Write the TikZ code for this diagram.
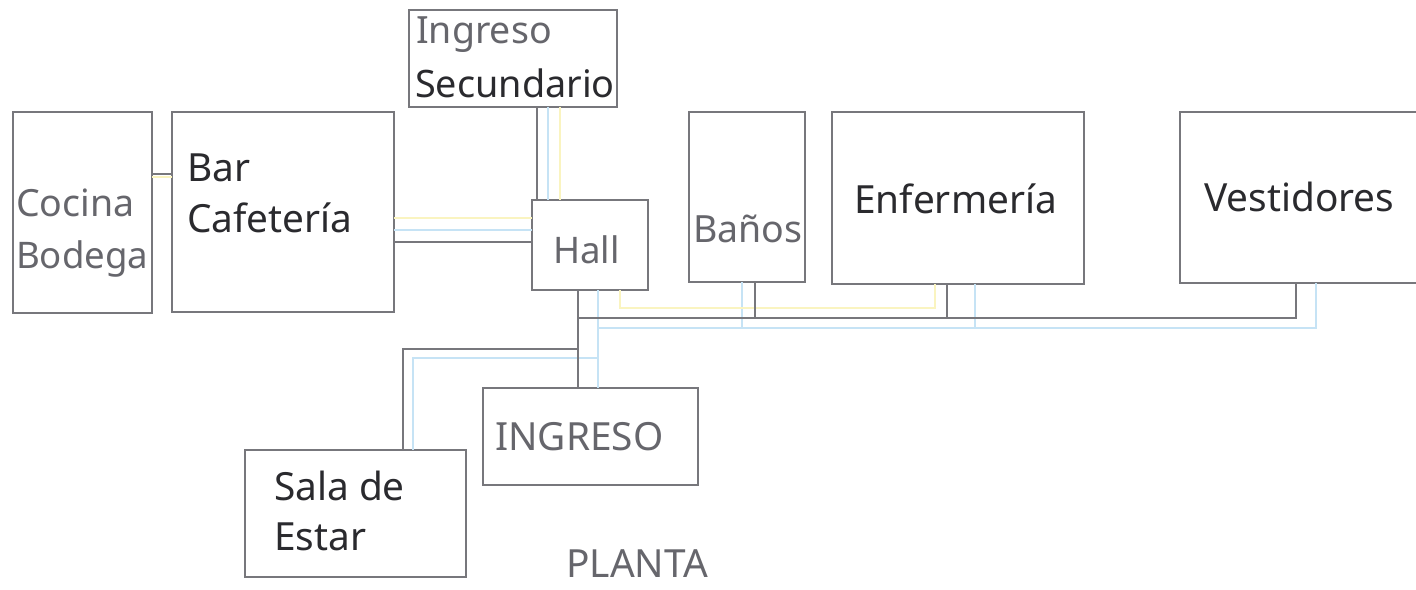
\documentclass[tikz,border=0pt]{standalone}
\usepackage{fontspec}
\setmainfont{Noto Sans}
\definecolor{ln}{HTML}{77777C}
\definecolor{bluel}{HTML}{C6E3F5}
\definecolor{yell}{HTML}{FAF4C0}
\definecolor{txg}{HTML}{66666C}
\definecolor{txd}{HTML}{2A2A2E}
\tikzset{
  x=1pt,y=-1pt,
  room/.style={draw=ln,line width=2pt,fill=white,anchor=north west,inner sep=0pt,outer sep=0pt},
  lab/.style={anchor=base west,inner sep=0pt,font=\fontsize{37.5}{37.5}\selectfont,text=txg},
  labn/.style={lab,font=\fontsize{36.6}{36.6}\selectfont},
  labw/.style={lab,font=\fontsize{38.8}{38.8}\selectfont},
  labd/.style={labw,text=txd},
  labs/.style={lab,font=\fontsize{37.8}{37.8}\selectfont,text=txd},
  dk/.style={draw=ln,line width=2pt},
  bl/.style={draw=bluel,line width=1.5pt},
  yl/.style={draw=yell,line width=1.8pt},
}
\begin{document}
\begin{tikzpicture}
\useasboundingbox (0,0) rectangle (1416,589);
% rooms
\node[room,minimum width=208pt,minimum height=97pt] (sec) at (409,10) {};
\node[room,minimum width=139pt,minimum height=201pt] (coc) at (13,112) {};
\node[room,minimum width=222pt,minimum height=200pt] (bar) at (172,112) {};
\node[room,minimum width=116pt,minimum height=90pt] (hall) at (532,200) {};
\node[room,minimum width=116pt,minimum height=170pt] (ban) at (689,112) {};
\node[room,minimum width=252pt,minimum height=172pt] (enf) at (832,112) {};
\node[room,minimum width=240pt,minimum height=171pt] (ves) at (1180,112) {};
\node[room,minimum width=215pt,minimum height=97pt] (ing) at (483,388) {};
\node[room,minimum width=221pt,minimum height=127pt] (sal) at (245,450) {};
% helper junctions
\coordinate (dkbus) at ([xshift=46pt,yshift=-28pt]hall.south west);
\coordinate (blbus) at ([xshift=66pt,yshift=-38pt]hall.south west);
\coordinate (dksal) at ([xshift=46pt,yshift=-59pt]hall.south west);
\coordinate (blsal) at ([xshift=66pt,yshift=-68pt]hall.south west);
% blue connectors
\draw[bl] ([xshift=139pt]sec.south west) -- ([xshift=16pt]hall.north west);
\draw[bl] ([yshift=-30pt]hall.north west) -- ([yshift=-118pt]bar.north east);
\draw[bl] ([xshift=66pt]hall.south west) -- ([xshift=115pt]ing.north west);
\draw[bl] (blbus) -| ([xshift=136pt]ves.south west);
\draw[bl] ([xshift=53pt]ban.south west) -- ([xshift=53pt,yshift=-46pt]ban.south west);
\draw[bl] ([xshift=143pt]enf.south west) -- ([xshift=143pt,yshift=-44pt]enf.south west);
\draw[bl] (blsal) -| ([xshift=168pt]sal.north west);
% yellow connectors
\draw[yl] ([xshift=151pt]sec.south west) -- ([xshift=28pt]hall.north west);
\draw[yl] ([yshift=-18pt]hall.north west) -- ([yshift=-106pt]bar.north east);
\draw[yl] ([yshift=-65pt]coc.north east) -- ([yshift=-65pt]bar.north west);
\draw[yl] ([xshift=88pt]hall.south west) |- ([xshift=103pt,yshift=-24pt]enf.south west) -- ([xshift=103pt]enf.south west);
% dark connectors
\draw[dk] ([xshift=128pt]sec.south west) -- ([xshift=5pt]hall.north west);
\draw[dk] ([yshift=-42pt]hall.north west) -- ([yshift=-130pt]bar.north east);
\draw[dk] ([yshift=-62pt]coc.north east) -- ([yshift=-62pt]bar.north west);
\draw[dk] ([xshift=46pt]hall.south west) -- ([xshift=95pt]ing.north west);
\draw[dk] (dkbus) -| ([xshift=116pt]ves.south west);
\draw[dk] ([xshift=66pt]ban.south west) -- ([xshift=66pt,yshift=-36pt]ban.south west);
\draw[dk] ([xshift=115pt]enf.south west) -- ([xshift=115pt,yshift=-34pt]enf.south west);
\draw[dk] (dksal) -| ([xshift=158pt]sal.north west);
% labels
\node[lab] (t1) at (416,43) {Ingreso};
\node[labs] (t2) at (415,97) {Secundario};
\node[lab] (t3) at (16,216) {Cocina};
\node[labn] (t4) at (16,268) {Bodega};
\node[labd] (t5) at (187,181) {Bar};
\node[labd] (t6) at (187,232) {Cafetería};
\node[labn] (t7) at (553,263) {Hall};
\node[lab] (t8) at (693,242) {Baños};
\node[labd] (t9) at (854,213) {Enfermería};
\node[labd] (t10) at (1204,211) {Vestidores};
\node[labw] (t11) at (495,450) {INGRESO};
\node[labd] (t12) at (274,500) {Sala de};
\node[labd] (t13) at (274,550) {Estar};
\node[labw] (t14) at (566,577) {PLANTA};
\end{tikzpicture}
\end{document}
